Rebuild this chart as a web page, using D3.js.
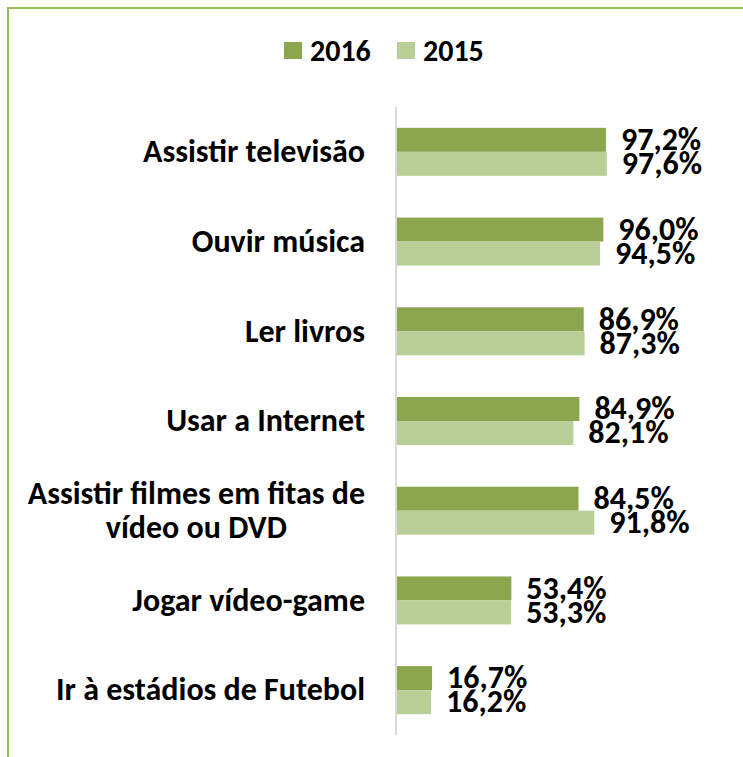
<!DOCTYPE html>
<html>
<head>
<meta charset="utf-8">
<script src="https://cdn.jsdelivr.net/npm/d3@7"></script>
<style>
  html, body { margin: 0; padding: 0; background: #fff; }
  svg text { font-family: Carlito, Calibri, "Liberation Sans Narrow", "Open Sans", sans-serif; font-weight: bold; fill: #000; }
</style>
</head>
<body>
<svg id="chart" width="743" height="757"></svg>
<script>
const categories = [
  ['Assistir televisão'],
  ['Ouvir música'],
  ['Ler livros'],
  ['Usar a Internet'],
  ['Assistir filmes em fitas de', 'vídeo ou DVD'],
  ['Jogar vídeo-game'],
  ['Ir à estádios de Futebol']
]
const values2016 = [97.2, 96.0, 86.9, 84.9, 84.5, 53.4, 16.7]
const values2015 = [97.6, 94.5, 87.3, 82.1, 91.8, 53.3, 16.2]
const seriesNames = ['2016', '2015']
const colors = ['#8BA64F', '#BACF97']

const svg = d3.select('#chart')
const width = 743
const height = 757
const margin = { top: 107, right: 131, bottom: 22, left: 396 }

// frame
svg.append('rect')
  .attr('x', 8).attr('y', 8)
  .attr('width', 760).attr('height', 780)
  .style('fill', 'none')
  .style('stroke', '#9BBB59')
  .style('stroke-width', 2)

const yScale = d3.scaleBand()
  .domain(d3.range(categories.length))
  .range([margin.top, height - margin.bottom])
  .paddingInner(0.465)
  .paddingOuter(0.2325)

const inner = d3.scaleBand()
  .domain(seriesNames)
  .range([0, yScale.bandwidth()])

const xScale = d3.scaleLinear().domain([0, 100]).range([margin.left, margin.left + 216])

const rows = svg.append('g').selectAll('g')
  .data(categories.map((c, i) => ({ label: c, vals: [values2016[i], values2015[i]] })))
  .join('g')
  .attr('transform', (d, i) => `translate(0, ${yScale(i)})`)

rows.selectAll('rect')
  .data(d => d.vals)
  .join('rect')
  .attr('x', xScale(0))
  .attr('y', (d, j) => inner(seriesNames[j]))
  .attr('width', d => xScale(d) - xScale(0))
  .attr('height', inner.bandwidth())
  .style('fill', (d, j) => colors[j])

rows.selectAll('text.val')
  .data(d => d.vals)
  .join('text')
  .attr('class', 'val')
  .attr('x', d => xScale(d) + 15)
  .attr('y', (d, j) => inner(seriesNames[j]) + inner.bandwidth() / 2)
  .attr('dy', '0.32em')
  .style('font-size', '32px')
  .text(d => d.toFixed(1).replace('.', ',') + '%')

// category labels, block right aligned, lines centred
rows.each(function(d) {
  const g = d3.select(this)
  const t = g.append('text')
    .style('font-size', '32px')
  const lineH = 34
  const y0 = yScale.bandwidth() / 2 - (d.label.length - 1) * lineH / 2
  d.label.forEach((line, k) => {
    t.append('tspan').attr('y', y0 + k * lineH).attr('dy', '0.32em').text(line)
  })
  const tspans = t.selectAll('tspan').nodes()
  const maxW = d3.max(tspans, n => n.getComputedTextLength())
  const right = 365
  tspans.forEach(n => {
    d3.select(n).attr('x', right - maxW / 2).attr('text-anchor', 'middle')
  })
})

// axis line
svg.append('line')
  .attr('x1', xScale(0)).attr('x2', xScale(0))
  .attr('y1', margin.top).attr('y2', height - margin.bottom)
  .style('stroke', '#D9D9D9')
  .style('stroke-width', 2)

// legend
const legend = svg.append('g').attr('transform', 'translate(284, 51)')
const item = legend.selectAll('g')
  .data(seriesNames)
  .join('g')
  .attr('transform', (d, i) => `translate(${i * 113}, 0)`)
item.append('rect')
  .attr('x', 0).attr('y', -9)
  .attr('width', 18).attr('height', 17)
  .style('fill', (d, i) => colors[i])
item.append('text')
  .attr('x', 26).attr('y', 0)
  .attr('dy', '0.32em')
  .style('font-size', '30px')
  .text(d => d)
</script>
</body>
</html>
